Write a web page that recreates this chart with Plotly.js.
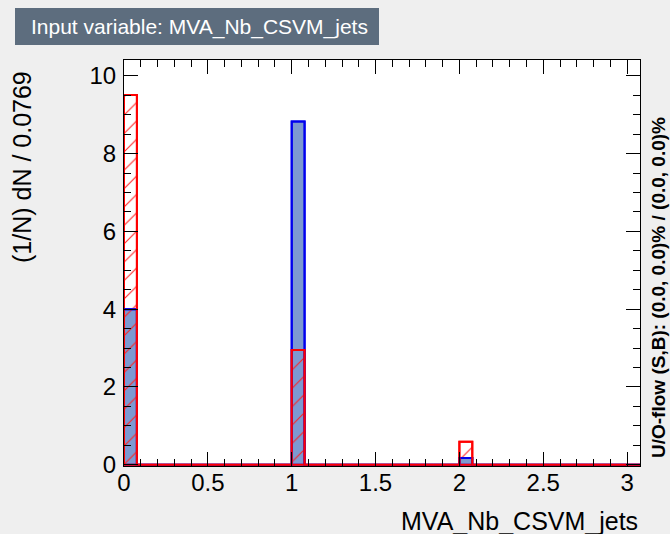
<!DOCTYPE html>
<html>
<head>
<meta charset="utf-8">
<script src="https://cdn.plot.ly/plotly-3.0.1.min.js"></script>
<style>html,body{margin:0;padding:0;background:#efefef;}#chart{width:670px;height:534px;}</style>
</head>
<body>
<div id="chart"></div>
<script>
// Histogram: 40 bins from 0 to 3.077, bin width 0.0769
const xMin = 0;
const xMax = 3.077;
const nBins = 40;
const signal = [4.0,0,0,0,0,0,0,0,0,0,0,0,0,8.83,0,0,0,0,0,0,0,0,0,0,0,0,0.17,0,0,0,0,0,0,0,0,0,0,0,0,0];
const background = [9.51,0,0,0,0,0,0,0,0,0,0,0,0,2.95,0,0,0,0,0,0,0,0,0,0,0,0,0.59,0,0,0,0,0,0,0,0,0,0,0,0,0];
const xTickVals = [0, 0.5, 1, 1.5, 2, 2.5, 3];
const xTickText = ['0', '0.5', '1', '1.5', '2', '2.5', '3'];
const yTickVals = [0, 2, 4, 6, 8, 10];
const yTickText = ['0', '2', '4', '6', '8', '10'];
const titleText = 'Input variable: MVA_Nb_CSVM_jets';
const xTitle = 'MVA_Nb_CSVM_jets';
const yTitle = '(1/N) dN / 0.0769';
const flowText = 'U/O-flow (S,B): (0.0, 0.0)% / (0.0, 0.0)%';

const bw = (xMax - xMin) / nBins;
const lows = signal.map((_, i) => xMin + i * bw);
function stepXY(vals) {
  const xs = [], ys = [];
  vals.forEach((v, i) => { xs.push(lows[i]); ys.push(v); });
  xs.push(xMax); ys.push(vals[vals.length - 1]);
  return {xs, ys};
}
const sStep = stepXY(signal), bStep = stepXY(background);

const font = 'Liberation Sans, Arial, Helvetica, sans-serif';

const traces = [
  {type: 'bar', x: lows, y: signal, width: bw, offset: 0,
   marker: {color: '#7d99d1', line: {color: '#0000ee', width: 2}}, hoverinfo: 'skip'},
  {type: 'scatter', mode: 'lines', x: sStep.xs, y: sStep.ys, line: {shape: 'hv', color: '#0000ee', width: 2}, hoverinfo: 'skip'},
  {type: 'bar', x: lows, y: background, width: bw, offset: 0,
   marker: {color: 'rgba(0,0,0,0)', line: {color: '#ff0000', width: 2},
            pattern: {shape: '/', fgcolor: '#ff2020', bgcolor: 'rgba(0,0,0,0)', size: 13, solidity: 0.08}}, hoverinfo: 'skip'},
  {type: 'scatter', mode: 'lines', x: bStep.xs, y: bStep.ys, line: {shape: 'hv', color: '#ff0000', width: 2}, hoverinfo: 'skip'}
];

const layout = {
  width: 670, height: 534,
  paper_bgcolor: '#efefef', plot_bgcolor: '#ffffff',
  margin: {l: 124, r: 30, t: 60, b: 68},
  showlegend: false, barmode: 'overlay',
  font: {family: font, size: 20, color: '#000'},
  xaxis: {range: [xMin, xMax], tickvals: xTickVals, ticktext: xTickText,
          ticks: 'inside', ticklen: 14, tickwidth: 1, tickcolor: '#000', ticklabelstandoff: -5,
          minor: {dtick: 0.1, ticks: 'inside', ticklen: 7, tickcolor: '#000', showgrid: false},
          showline: true, linecolor: '#000', linewidth: 1, mirror: 'ticks',
          showgrid: false, zeroline: false, tickfont: {size: 24}},
  yaxis: {range: [-0.035, 10.41], tickvals: yTickVals, ticktext: yTickText,
          ticks: 'inside', ticklen: 14, tickwidth: 1, tickcolor: '#000', ticklabelstandoff: 2,
          minor: {dtick: 0.5, ticks: 'inside', ticklen: 7, tickcolor: '#000', showgrid: false},
          showline: true, linecolor: '#000', linewidth: 1, mirror: 'ticks',
          showgrid: false, zeroline: false, tickfont: {size: 24}},
  shapes: [
    {type: 'rect', xref: 'paper', yref: 'paper',
     x0: (15 - 124) / 516, x1: (379 - 124) / 516, y0: (466 - 45) / 406, y1: (466 - 8) / 406,
     fillcolor: '#5d6d7e', line: {color: '#5d6d7e', width: 0}, layer: 'above'}
  ],
  annotations: [
    {text: titleText, xref: 'paper', yref: 'paper', x: (29 - 124) / 516, y: (466 - 26.5) / 406,
     xanchor: 'left', yanchor: 'middle', showarrow: false, font: {size: 21, color: '#ffffff', family: font}},
    {text: xTitle, xref: 'paper', yref: 'paper', x: 1, y: (466 - 521) / 406,
     xanchor: 'right', yanchor: 'middle', showarrow: false, font: {size: 25, family: font}},
    {text: yTitle, xref: 'paper', yref: 'paper', x: (22 - 124) / 516, y: (466 - 167) / 406,
     xanchor: 'center', yanchor: 'middle', textangle: -90, showarrow: false, font: {size: 25, family: font}},
    {text: '<b>' + flowText + '</b>', xref: 'paper', yref: 'paper', x: (658 - 124) / 516, y: (466 - 288) / 406,
     xanchor: 'center', yanchor: 'middle', textangle: -90, showarrow: false, font: {size: 19, family: font}}
  ]
};

Plotly.newPlot('chart', traces, layout, {staticPlot: true, displayModeBar: false});
</script>
</body>
</html>
